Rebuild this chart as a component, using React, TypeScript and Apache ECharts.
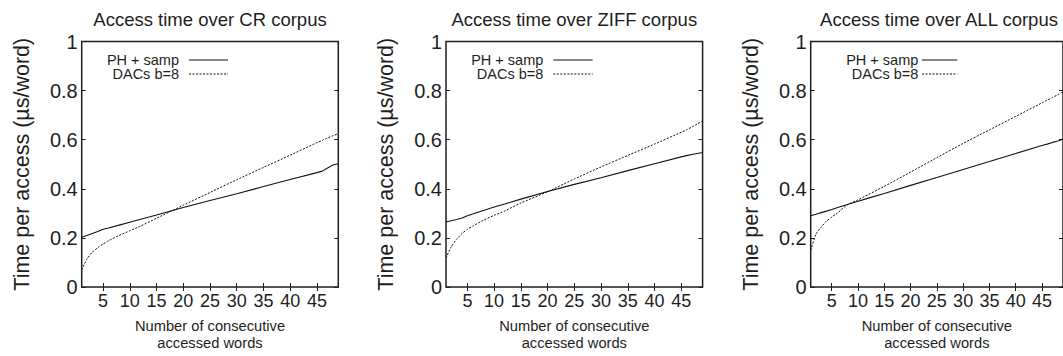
import React, { useEffect, useRef } from "react";
import * as echarts from "echarts";

// ---- data ----
const X = [1, 2, 3, 4, 5, 6, 8, 10, 12, 15, 20, 25, 30, 35, 40, 45, 46, 47, 48, 49];

const CR_PH = [0.203, 0.21, 0.218, 0.226, 0.235, 0.24, 0.252, 0.264, 0.276, 0.293, 0.324, 0.352, 0.38, 0.409, 0.438, 0.466, 0.472, 0.485, 0.497, 0.502];
const CR_DACS = [0.07, 0.115, 0.142, 0.16, 0.175, 0.188, 0.21, 0.229, 0.248, 0.28, 0.333, 0.385, 0.437, 0.487, 0.537, 0.588, 0.597, 0.607, 0.616, 0.625];

const ZIFF_PH = [0.265, 0.27, 0.275, 0.281, 0.29, 0.297, 0.312, 0.326, 0.338, 0.358, 0.389, 0.418, 0.445, 0.474, 0.502, 0.53, 0.535, 0.54, 0.544, 0.548];
const ZIFF_DACS = [0.118, 0.165, 0.195, 0.218, 0.235, 0.248, 0.272, 0.292, 0.31, 0.342, 0.388, 0.44, 0.489, 0.536, 0.582, 0.63, 0.64, 0.652, 0.664, 0.676];

const ALL_PH = [0.29, 0.296, 0.303, 0.309, 0.316, 0.323, 0.336, 0.349, 0.362, 0.381, 0.414, 0.446, 0.479, 0.511, 0.544, 0.576, 0.582, 0.589, 0.595, 0.602];
const ALL_DACS = [0.15, 0.215, 0.245, 0.268, 0.285, 0.3, 0.335, 0.355, 0.377, 0.41, 0.468, 0.527, 0.585, 0.64, 0.695, 0.75, 0.761, 0.772, 0.783, 0.795];

const TITLES = ["Access time over CR corpus", "Access time over ZIFF corpus", "Access time over ALL corpus"];
const SERIES_NAMES = ["PH + samp", "DACs b=8"];
const X_TICKS = [5, 10, 15, 20, 25, 30, 35, 40, 45];
const X_NAME = "Number of consecutive\naccessed words";
const Y_NAME = "Time per access (\u00b5s/word)";

const PH_DATA = [CR_PH, ZIFF_PH, ALL_PH];
const DACS_DATA = [CR_DACS, ZIFF_DACS, ALL_DACS];

// ---- layout ----
const FONT = "'Liberation Sans', Arial, Helvetica, sans-serif";
const INK = "#1e1e1e";
const GRID_LEFT = [81.7, 446, 810.7];
const GRID_TOP = 41.5;
const GRID_W = 256.6;
const GRID_H = 251.5;
const LEGEND = [
  { textRight: 179, x1: 189, x2: 228 },
  { textRight: 543.3, x1: 553.3, x2: 592.7 },
  { textRight: 918.3, x1: 922, x2: 957.3 },
];

function buildOption() {
  const grid: any[] = [];
  const xAxis: any[] = [];
  const yAxis: any[] = [];
  const series: any[] = [];
  const title: any[] = [];
  const graphic: any[] = [];

  for (let i = 0; i < 3; i++) {
    grid.push({
      left: GRID_LEFT[i],
      top: GRID_TOP,
      width: GRID_W,
      height: GRID_H,
      show: true,
      borderColor: INK,
      borderWidth: 1.5,
      backgroundColor: "transparent",
    });
    const tick = { inside: true, length: 4, lineStyle: { color: INK, width: 1 }, customValues: X_TICKS };
    xAxis.push({
      type: "value",
      gridIndex: i,
      min: 1,
      max: 49,
      position: "bottom",
      axisLine: { show: false },
      splitLine: { show: false },
      axisTick: tick,
      axisLabel: { customValues: X_TICKS, fontSize: 18, color: INK, margin: 5, fontFamily: FONT },
      name: X_NAME,
      nameLocation: "middle",
      nameGap: 31,
      nameTextStyle: { fontSize: 14.7, lineHeight: 16.5, color: INK, fontFamily: FONT },
    });
    xAxis.push({
      type: "value",
      gridIndex: i,
      min: 1,
      max: 49,
      position: "top",
      axisLine: { show: false },
      splitLine: { show: false },
      axisTick: tick,
      axisLabel: { show: false, customValues: X_TICKS },
    });
    const yTick = { inside: true, length: 4, lineStyle: { color: INK, width: 1 } };
    yAxis.push({
      type: "value",
      gridIndex: i,
      min: 0,
      max: 1,
      interval: 0.2,
      position: "left",
      axisLine: { show: false },
      splitLine: { show: false },
      axisTick: yTick,
      axisLabel: { fontSize: 20, color: INK, margin: 4, fontFamily: FONT },
      name: Y_NAME,
      nameLocation: "middle",
      nameGap: 49,
      nameTextStyle: { fontSize: 21.5, color: INK, fontFamily: FONT },
    });
    yAxis.push({
      type: "value",
      gridIndex: i,
      min: 0,
      max: 1,
      interval: 0.2,
      position: "right",
      axisLine: { show: false },
      splitLine: { show: false },
      axisTick: yTick,
      axisLabel: { show: false },
    });

    series.push({
      type: "line",
      name: SERIES_NAMES[0],
      xAxisIndex: 2 * i,
      yAxisIndex: 2 * i,
      data: X.map((x, k) => [x, PH_DATA[i][k]]),
      symbol: "none",
      lineStyle: { color: "#111", width: 1.1, type: "solid" },
      itemStyle: { color: "#111" },
    });
    series.push({
      type: "line",
      name: SERIES_NAMES[1],
      xAxisIndex: 2 * i,
      yAxisIndex: 2 * i,
      data: X.map((x, k) => [x, DACS_DATA[i][k]]),
      symbol: "none",
      smooth: 0.2,
      lineStyle: { color: "#111", width: 1, type: [2, 1.5] },
      itemStyle: { color: "#111" },
    });

    title.push({
      text: TITLES[i],
      left: GRID_LEFT[i] + GRID_W / 2,
      top: 10,
      textAlign: "center",
      padding: 0,
      textStyle: { fontSize: 18.5, fontWeight: "normal", color: INK, fontFamily: FONT },
    });

    const lg = LEGEND[i];
    [60, 74].forEach((y, r) => {
      graphic.push({
        type: "text",
        x: lg.textRight,
        y,
        style: {
          text: SERIES_NAMES[r],
          fill: INK,
          fontSize: 14.5,
          fontFamily: FONT,
          align: "right",
          verticalAlign: "middle",
        },
      });
      graphic.push({
        type: "line",
        shape: { x1: lg.x1, y1: y, x2: lg.x2, y2: y },
        style: { stroke: "#111", lineWidth: 1, lineDash: r === 0 ? null : [2, 1.5] },
      });
    });
  }

  return { animation: false, backgroundColor: "#fff", title, grid, xAxis, yAxis, series, graphic };
}

export default function App() {
  const ref = useRef<HTMLDivElement>(null);
  useEffect(() => {
    if (!ref.current) return;
    const chart = echarts.init(ref.current, null, { renderer: "svg" });
    chart.setOption(buildOption() as any);
    return () => chart.dispose();
  }, []);
  return (
    <div
      ref={ref}
      style={{ position: "absolute", left: 0, top: 0, width: 1063, height: 356, background: "#fff" }}
    />
  );
}
